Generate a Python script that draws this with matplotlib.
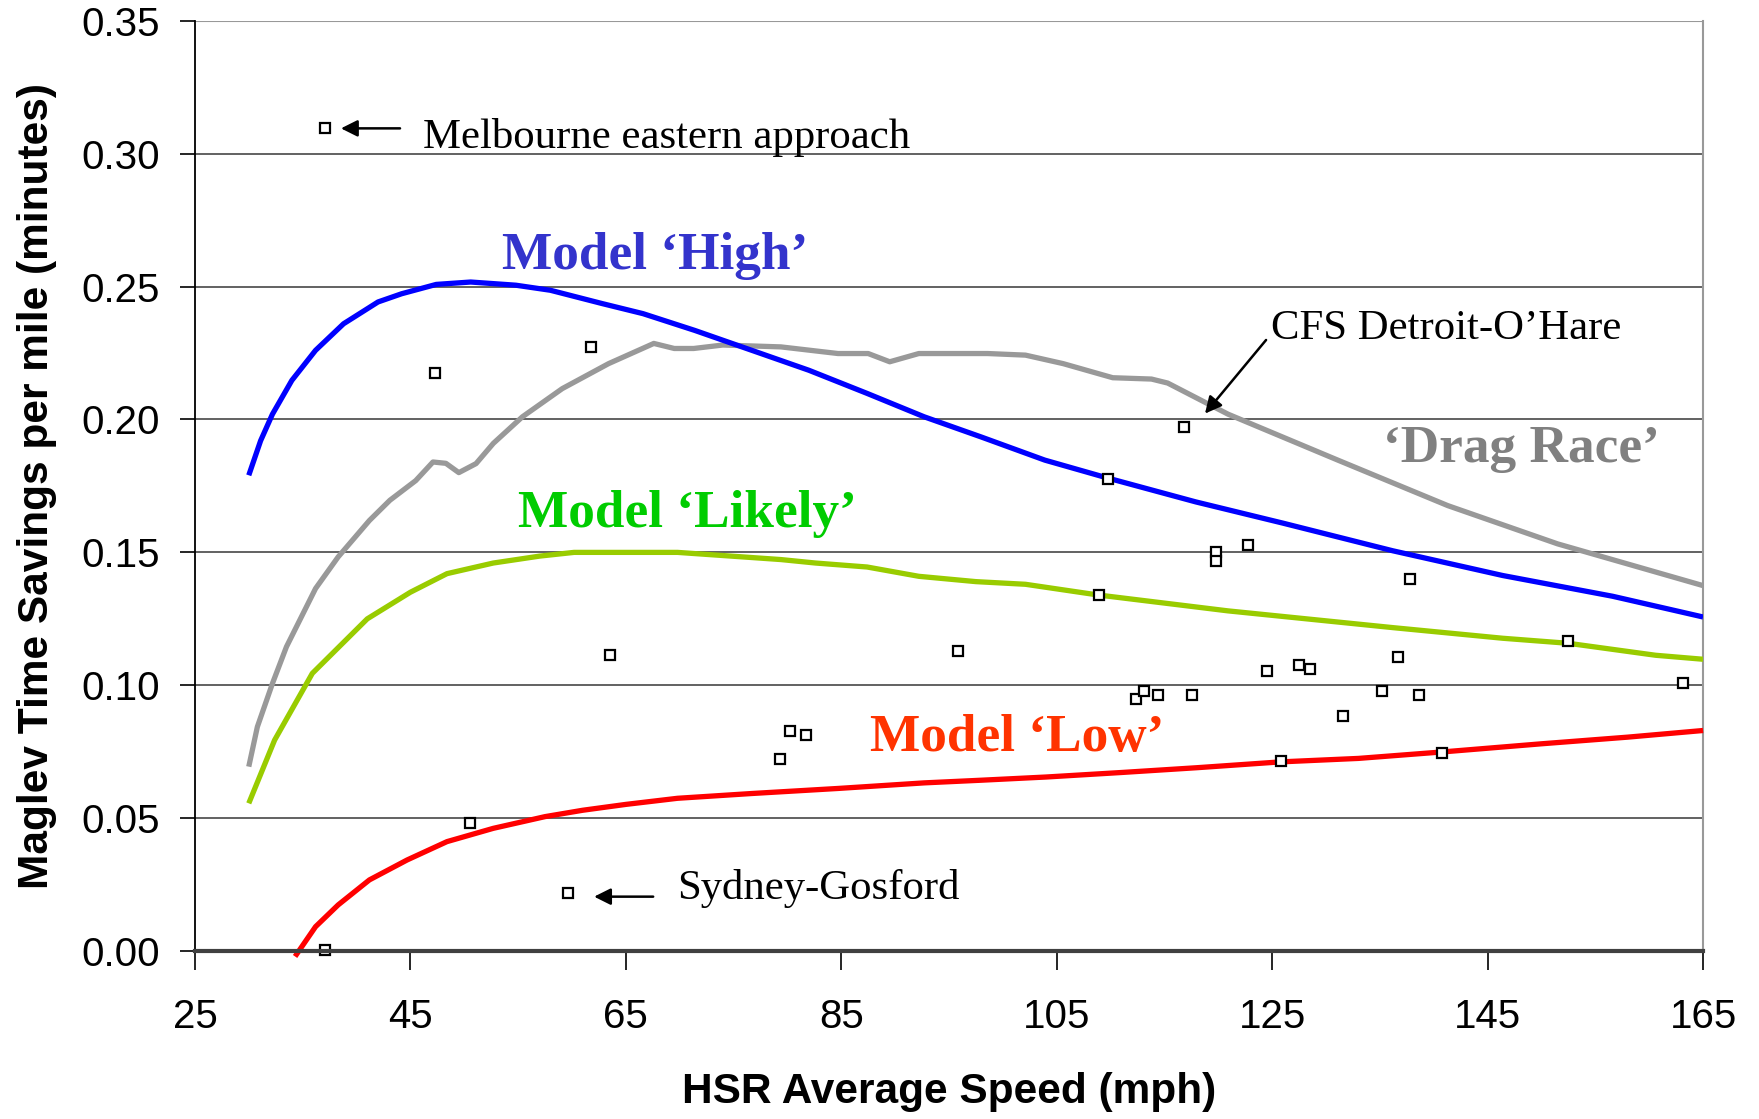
import matplotlib
matplotlib.use("Agg")
import matplotlib.pyplot as plt
from matplotlib.ticker import FixedLocator

# ---------------- data ----------------
high_x = [30, 31.1, 32.2, 34.0, 36.2, 38.8, 42.0, 44.2, 47.4, 50.6, 54.8, 58.0, 62.8, 66.6,
          71.4, 76.7, 82.0, 87.4, 92.7, 98.0, 103.9, 109.7, 117.9, 126.0, 136.2, 146.4, 156.6, 165]
high_y = [0.179, 0.192, 0.202, 0.2147, 0.226, 0.236, 0.2442, 0.2473, 0.2508, 0.2517, 0.2505, 0.2486,
          0.2436, 0.2398, 0.2335, 0.226, 0.2185, 0.2098, 0.201, 0.1934, 0.1847, 0.178, 0.169, 0.161,
          0.1506, 0.1413, 0.1335, 0.1257]

drag_x = [30, 30.8, 32.2, 33.5, 36.2, 38.3, 41.2, 43.1, 45.5, 47.1, 48.3, 49.5, 51.1, 52.7, 55.4, 59.1,
          63.4, 67.6, 69.5, 71.3, 74.0, 79.4, 84.7, 87.5, 89.5, 92.2, 98.6, 102.1, 105.6, 110.2,
          113.8, 115.3, 120.9, 131.1, 141.3, 151.5, 165]
drag_y = [0.0694, 0.0844, 0.1007, 0.1145, 0.1364, 0.1483, 0.162, 0.1696, 0.177, 0.184, 0.1835, 0.180,
          0.1834, 0.191, 0.201, 0.2116, 0.221, 0.2286, 0.2267, 0.2267, 0.228, 0.2273, 0.2248, 0.2248,
          0.2217, 0.2248, 0.2248, 0.2242, 0.221, 0.2157, 0.2152, 0.2137, 0.202, 0.1847, 0.1676,
          0.1532, 0.1375]

likely_x = [30, 32.4, 35.9, 41.0, 45.0, 48.4, 52.7, 57.0, 60.2, 69.8, 79.4, 82.6, 87.4, 92.2, 97.5,
            102.1, 108.8, 120.9, 136.2, 146.4, 152.5, 160.6, 165]
likely_y = [0.0556, 0.0794, 0.1045, 0.125, 0.135, 0.142, 0.146, 0.1486, 0.150, 0.150, 0.1473, 0.146,
            0.1445, 0.141, 0.139, 0.138, 0.134, 0.128, 0.1217, 0.1177, 0.1158, 0.1113, 0.1098]

low_x = [34.3, 36.2, 38.3, 41.2, 44.7, 48.4, 52.7, 57.5, 61.0, 65.0, 69.8, 76.7, 84.7, 92.7, 98.0,
         104.0, 111.0, 118.0, 125.8, 133.0, 141.0, 150.0, 158.0, 165]
low_y = [-0.002, 0.0092, 0.0174, 0.0268, 0.0343, 0.0412, 0.0462, 0.0506, 0.053, 0.0552, 0.0575,
         0.0593, 0.0612, 0.0633, 0.0643, 0.0655, 0.0672, 0.069, 0.0712, 0.0725, 0.075, 0.078,
         0.0805, 0.083]

proj_x = [37.1, 47.3, 61.8, 63.5, 95.8, 108.9, 109.8, 116.8, 119.8, 119.8, 122.8, 124.5, 127.5,
          128.5, 131.6, 135.2, 136.7, 137.8, 138.6, 140.8, 125.8, 152.5, 163.1, 112.4, 113.1,
          114.4, 117.6, 79.3, 80.2, 81.7, 50.5, 59.6, 37.1]
proj_y = [0.3095, 0.2176, 0.2273, 0.1114, 0.113, 0.1338, 0.1777, 0.1972, 0.150, 0.1469, 0.1529,
          0.1054, 0.1077, 0.1061, 0.0886, 0.0978, 0.1107, 0.140, 0.0962, 0.0744, 0.0714, 0.1166,
          0.1008, 0.0948, 0.0979, 0.0962, 0.0962, 0.0721, 0.0828, 0.0813, 0.0481, 0.0218, 0.0005]

x_ticks = [25, 45, 65, 85, 105, 125, 145, 165]
y_ticks = [0.00, 0.05, 0.10, 0.15, 0.20, 0.25, 0.30, 0.35]

# ---------------- figure ----------------
fig = plt.figure(figsize=(17.59, 11.19), dpi=100)
ax = fig.add_axes([0.1108, 0.150, 0.8574, 0.8315])

sans = ["Liberation Sans", "DejaVu Sans"]
serif = ["Liberation Serif", "DejaVu Serif"]

ax.set_xlim(25, 165)
ax.set_ylim(0, 0.35)

# gridlines
for yv in y_ticks[1:-1]:
    ax.axhline(yv, color="#555555", lw=1.3, zorder=1)
ax.axhline(0.35, color="#999999", lw=1.5, zorder=1)

ax.plot(drag_x, drag_y, color="#999999", lw=3.8, zorder=3, solid_capstyle="butt")
ax.plot(high_x, high_y, color="#0000FF", lw=3.8, zorder=4, solid_capstyle="butt")
ax.plot(likely_x, likely_y, color="#99CC00", lw=3.8, zorder=3, solid_capstyle="butt")
ax.plot(low_x, low_y, color="#FF0000", lw=3.8, zorder=3, solid_capstyle="butt", clip_on=False)

ax.plot(proj_x, proj_y, ls="none", marker="s", ms=7.5, mfc="white", mec="black", mew=1.6,
        zorder=5, clip_on=False)

# spines
ax.spines["top"].set_visible(False)
ax.spines["right"].set_color("#999999")
ax.spines["right"].set_linewidth(1.5)
ax.spines["left"].set_color("black")
ax.spines["left"].set_linewidth(1.3)
ax.spines["bottom"].set_color("#404040")
ax.spines["bottom"].set_linewidth(3)
ax.spines["bottom"].set_zorder(6)

ax.xaxis.set_major_locator(FixedLocator(x_ticks))
ax.yaxis.set_major_locator(FixedLocator(y_ticks))
ax.set_xticklabels([str(v) for v in x_ticks])
ax.set_yticklabels([f"{v:.2f}" for v in y_ticks])
ax.tick_params(axis="both", direction="out", length=11, width=1.2, color="black",
               labelsize=29, pad=14)
ax.tick_params(axis="x", pad=20, length=14)
for lab in ax.get_xticklabels() + ax.get_yticklabels():
    lab.set_family(sans)

ax.set_xlabel("HSR Average Speed (mph)", fontsize=30.5, fontweight="bold", family=sans, labelpad=26)
ax.set_ylabel("Maglev Time Savings per mile (minutes)", fontsize=30.5, fontweight="bold",
              family=sans, labelpad=18)

# annotations
ax.text(46.2, 0.3062, "Melbourne eastern approach", fontsize=30.8, family=serif,
        va="center", ha="left")
ax.annotate("", xy=(38.3, 0.3095), xytext=(44.3, 0.3095),
            arrowprops=dict(arrowstyle="-|>", color="black", lw=1.8, mutation_scale=25))

ax.text(69.8, 0.0235, "Sydney-Gosford", fontsize=30.8, family=serif, va="center", ha="left")
ax.annotate("", xy=(61.8, 0.0205), xytext=(67.8, 0.0205),
            arrowprops=dict(arrowstyle="-|>", color="black", lw=1.8, mutation_scale=25))

ax.text(124.9, 0.2340, "CFS Detroit-O\u2019Hare", fontsize=30.8, family=serif, va="center", ha="left")
ax.annotate("", xy=(118.6, 0.2014), xytext=(124.6, 0.2307),
            arrowprops=dict(arrowstyle="-|>", color="black", lw=1.8, mutation_scale=25))

ax.text(67.7, 0.2614, "Model \u2018High\u2019", fontsize=38.3, fontweight="bold", family=serif,
        color="#3333CC", ha="center", va="center")
ax.text(70.7, 0.1644, "Model \u2018Likely\u2019", fontsize=38.3, fontweight="bold", family=serif,
        color="#00CC00", ha="center", va="center")
ax.text(101.3, 0.0801, "Model \u2018Low\u2019", fontsize=38.3, fontweight="bold", family=serif,
        color="#FF3300", ha="center", va="center")
ax.text(148.1, 0.1889, "\u2018Drag Race\u2019", fontsize=38.3, fontweight="bold", family=serif,
        color="#808080", ha="center", va="center")

fig.savefig("out.png", dpi=100)
